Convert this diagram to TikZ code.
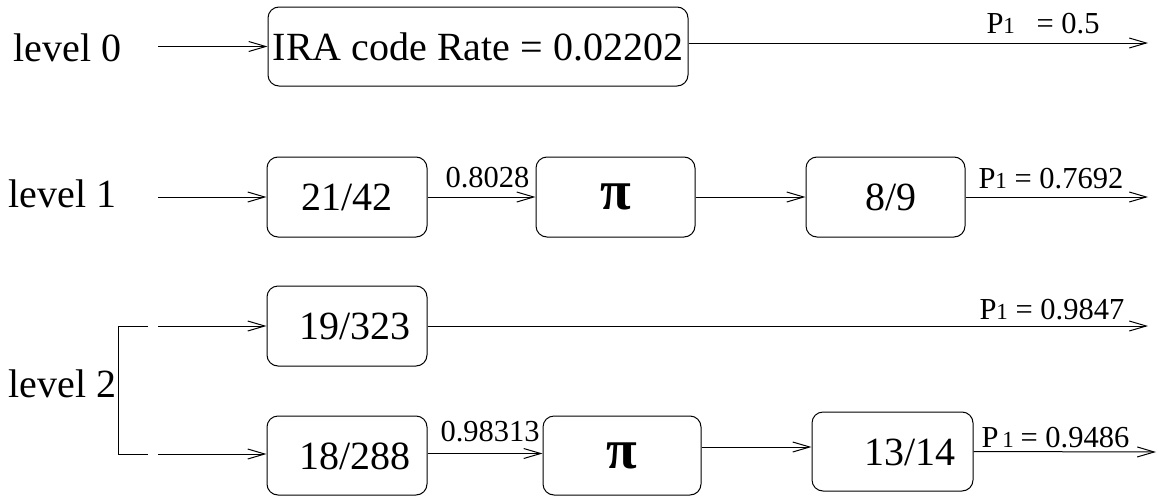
\documentclass[tikz,border=0pt]{standalone}
\usepackage{fontspec}
\setmainfont{Liberation Serif}
\usetikzlibrary{arrows.meta}

\newcommand{\bigsz}{\fontsize{40}{48}\selectfont}
\newcommand{\lblsz}{\fontsize{30.5}{34}\selectfont}
\newcommand{\subone}{{\fontsize{23}{23}\selectfont 1}}

\begin{document}
\begin{tikzpicture}[x=1pt,y=-1pt,
  line width=1pt,
  flow/.style={-{Straight Barb[length=17pt,width=10pt,line width=1pt]}},
  blockbox/.style={draw, rectangle, rounded corners=11pt, inner sep=0pt,
    minimum width=160pt, minimum height=80pt, font=\bigsz,
    text height=27pt, text depth=0pt},
  lvl/.style={anchor=base west, inner sep=0pt, font=\bigsz},
  rate/.style={anchor=base west, inner sep=0pt, font=\lblsz},
  permbox/.style={blockbox, font=\fontsize{56}{60}\selectfont\bfseries,
    text height=, text depth=}
]
\useasboundingbox (0,0) rectangle (1159,498);

% level labels
\node[lvl] (l0) at (13,61) {level 0};
\node[lvl] (l1) at (8,207) {level 1};
\node[lvl] (l2) at (8,397) {level 2};

% level 0
\node[blockbox, minimum width=420pt, minimum height=79pt] (ira) at (478,46.5)
  {IRA code Rate = 0.02202};
\coordinate (in0) at (158,46.5);
\coordinate (out0) at (1148,43);
\draw[flow] (in0) -- (ira.west);
\draw[flow] ([yshift=3.5pt]ira.east) -- (out0);
\node[rate] (p0) at (986,33) {P\subone\hspace{14pt} = 0.5};

% level 1
\node[blockbox] (c1) at (347,197) {21/42};
\node[permbox, minimum width=159pt] (pi1) at (615.5,197) {π};
\node[blockbox, minimum width=159pt] (c2) at (885.5,197) {\hspace*{11pt}8/9};
\coordinate (in1) at (158,197);
\coordinate (out1) at (1148,197);
\draw[flow] (in1) -- (c1.west);
\draw[flow] (c1.east) -- (pi1.west);
\draw[flow] (pi1.east) -- (c2.west);
\draw[flow] (c2.east) -- (out1);
\node[rate] (r1) at (445,187) {0.8028};
\node[rate] (p1) at (978,188) {P\subone\ = 0.7692};

% level 2
\node[blockbox] (c3) at (347,326) {\hspace*{16pt}19/323};
\node[blockbox, minimum height=79pt] (c4) at (347,455.5) {\hspace*{16pt}18/288};
\node[permbox, minimum width=158pt, minimum height=79pt] (pi2) at (622,455.5) {π};
\node[blockbox, minimum width=161pt, minimum height=79pt] (c5) at (892.5,451.5)
  {\hspace*{35pt}13/14};

% split of the level 2 input
\coordinate (sa) at (148,326);
\coordinate (sb) at (148,454);
\coordinate (ta) at (158,326);
\coordinate (tb) at (158,454);
\draw (sa) -- (118,326) -- (118,454) -- (sb);
\draw[flow] (ta) -- (c3.west);
\draw[flow] (tb) -- (c4.west |- tb);

\coordinate (out2) at (1148,326);
\coordinate (out3) at (1156,452);
\draw[flow] (c3.east) -- (out2);
\draw[flow] ([yshift=2pt]c4.east) -- ([yshift=2pt]pi2.west);
\draw[flow] ([yshift=8.5pt]pi2.east) -- ([yshift=4.5pt]c5.west);
\draw[flow] (c5.east) -- (out3);
\node[rate] (r2) at (440,441) {0.98313};
\node[rate] (p2) at (979,319) {P\subone\ = 0.9847};
\node[rate] (p3) at (981,447) {P\kern4pt\subone\kern-1pt\ = 0.9486};
\end{tikzpicture}
\end{document}
